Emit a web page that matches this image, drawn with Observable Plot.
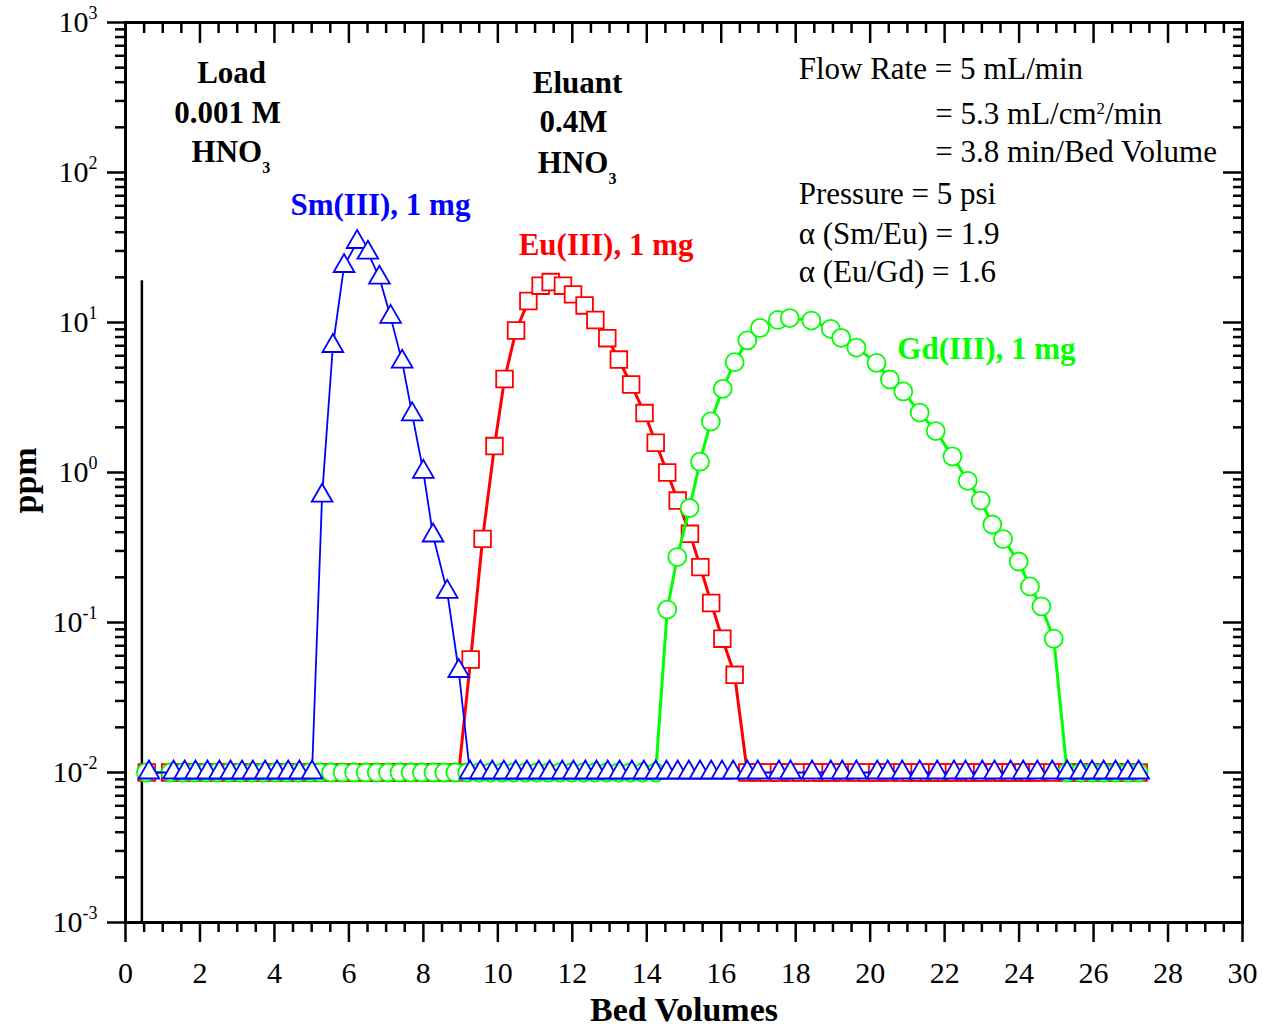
<!DOCTYPE html>
<html><head><meta charset="utf-8">
<script src="https://cdn.jsdelivr.net/npm/d3@7"></script>
<script src="https://cdn.jsdelivr.net/npm/@observablehq/plot@0.6"></script>
<style>body{margin:0;background:#fff}</style>
</head><body><div id="chart"></div>
<script>
// ---------- data (Bed Volumes, ppm) ----------
const sm = [
 [0.63,0.01],[1.29,0.01],[1.59,0.01],[1.88,0.01],[2.20,0.01],[2.52,0.01],[2.82,0.01],[3.13,0.01],[3.42,0.01],[3.75,0.01],[4.07,0.01],[4.37,0.01],[4.67,0.01],[5.01,0.01],
 [5.28,0.70],[5.57,6.97],[5.87,23.8],[6.22,34.4],[6.51,29.2],[6.82,19.9],[7.12,10.9],[7.43,5.48],[7.70,2.44],[8.00,1.01],[8.26,0.38],[8.64,0.16],[8.95,0.0475],
 [9.25,0.01],[9.53,0.01],[9.85,0.01],[10.16,0.01],[10.48,0.01],[10.78,0.01],[11.10,0.01],[11.39,0.01],[11.73,0.01],[12.03,0.01],[12.35,0.01],[12.65,0.01],[12.95,0.01],[13.27,0.01],[13.60,0.01],[13.92,0.01],[14.24,0.01],
 [14.53,0.01],[14.83,0.01],[15.13,0.01],[15.43,0.01],[15.73,0.01],[16.02,0.01],[16.32,0.01],[16.70,0.01],[16.98,0.01],[17.55,0.01],[17.86,0.01],[18.44,0.01],[18.94,0.01],[19.25,0.01],[19.63,0.01],[20.19,0.01],[20.47,0.01],[20.86,0.01],[21.33,0.01],[21.80,0.01],[22.25,0.01],[22.56,0.01],[23.01,0.01],[23.34,0.01],[23.77,0.01],[24.11,0.01],[24.49,0.01],[24.89,0.01],[25.29,0.01],[25.65,0.01],[25.96,0.01],[26.27,0.01],[26.59,0.01],[26.92,0.01],[27.21,0.01]
];
const eu = [
 [0.57,0.01],[1.20,0.01],[1.53,0.01],[1.84,0.01],[2.15,0.01],[2.47,0.01],[2.78,0.01],[3.08,0.01],[3.40,0.01],[3.71,0.01],[4.03,0.01],[4.33,0.01],[4.64,0.01],[4.96,0.01],[5.25,0.01],[5.55,0.01],[5.87,0.01],[6.17,0.01],[6.47,0.01],[6.79,0.01],[7.10,0.01],[7.41,0.01],[7.71,0.01],[8.03,0.01],[8.33,0.01],[8.65,0.01],[8.95,0.01],
 [9.27,0.0567],[9.59,0.361],[9.91,1.50],[10.18,4.2],[10.49,8.85],[10.82,13.9],[11.15,17.6],[11.42,18.6],[11.75,17.6],[12.02,15.4],[12.33,13.0],[12.62,10.4],[12.94,7.86],[13.25,5.66],[13.58,3.86],[13.94,2.49],[14.24,1.58],[14.55,1.0],[14.83,0.65],[15.16,0.39],[15.44,0.234],[15.73,0.135],[16.03,0.078],[16.36,0.0448],
 [16.70,0.01],[16.98,0.01],[17.27,0.01],[17.55,0.01],[17.86,0.01],[18.15,0.01],[18.44,0.01],[18.70,0.01],[18.94,0.01],[19.25,0.01],[19.63,0.01],[19.92,0.01],[20.19,0.01],[20.47,0.01],[20.86,0.01],[21.10,0.01],[21.33,0.01],[21.58,0.01],[21.80,0.01],[22.05,0.01],[22.25,0.01],[22.56,0.01],[22.80,0.01],[23.01,0.01],[23.34,0.01],[23.57,0.01],[23.77,0.01],[24.11,0.01],[24.29,0.01],[24.49,0.01],[24.89,0.01],[25.29,0.01],[25.65,0.01],[25.96,0.01],[26.27,0.01],[26.59,0.01],[26.92,0.01],[27.21,0.01]
];
const gd = [
 [0.55,0.01],[1.21,0.01],[1.54,0.01],[1.85,0.01],[2.16,0.01],[2.46,0.01],[2.78,0.01],[3.08,0.01],[3.40,0.01],[3.70,0.01],[4.02,0.01],[4.33,0.01],[4.64,0.01],[4.95,0.01],[5.22,0.01],[5.52,0.01],[5.83,0.01],[6.14,0.01],[6.45,0.01],[6.75,0.01],[7.05,0.01],[7.36,0.01],[7.66,0.01],[7.96,0.01],[8.27,0.01],[8.56,0.01],[8.86,0.01],[9.18,0.01],[9.50,0.01],[9.80,0.01],[10.12,0.01],[10.42,0.01],[10.74,0.01],[11.05,0.01],[11.36,0.01],[11.67,0.01],[11.98,0.01],[12.30,0.01],[12.61,0.01],[12.92,0.01],[13.24,0.01],[13.56,0.01],[13.88,0.01],[14.24,0.01],
 [14.55,0.122],[14.82,0.273],[15.15,0.58],[15.43,1.18],[15.72,2.19],[16.04,3.61],[16.36,5.44],[16.70,7.6],[17.04,9.2],[17.52,10.4],[17.84,10.7],[18.42,10.3],[18.94,9.08],[19.22,7.9],[19.63,6.8],[20.17,5.38],[20.53,4.17],[20.89,3.47],[21.33,2.51],[21.76,1.89],[22.21,1.28],[22.62,0.88],[22.97,0.65],[23.28,0.45],[23.57,0.36],[23.99,0.255],[24.29,0.174],[24.60,0.128],[24.93,0.078],
 [25.29,0.01],[25.65,0.01],[25.96,0.01],[26.27,0.01],[26.59,0.01],[26.92,0.01],[27.21,0.01]
];
const seriesNames = ["Eu(III), 1 mg", "Gd(III), 1 mg", "Sm(III), 1 mg"];
const loadLine = [{x: 0.44, top: 19, bottom: 0.001}];

const xMajorTicks = [0,2,4,6,8,10,12,14,16,18,20,22,24,26,28,30];
const yMajorTicks = [0.001,0.01,0.1,1,10,100,1000];
const xMinorTicks = d3.range(0.5, 30, 0.5).filter(v => v % 2 !== 0);
const yMinorTicks = [];
for (let k = -3; k < 3; k++) for (let m = 2; m <= 9; m++) yMinorTicks.push(m * Math.pow(10, k));

// annotation texts (positions in data space)
const boldNotes = [
  {text: "Load", x: 2.85, y: 398},
  {text: "0.001 M", x: 2.74, y: 215},
  {text: "HNO_{3}", x: 2.83, y: 117},
  {text: "Eluant", x: 12.14, y: 341},
  {text: "0.4M", x: 12.03, y: 185},
  {text: "HNO_{3}", x: 12.13, y: 100}
];
const infoNotes = [
  {text: "Flow Rate = 5 mL/min", x: 18.08, y: 417},
  {text: "= 5.3 mL/cm^{2}/min", x: 21.75, y: 212},
  {text: "= 3.8 min/Bed Volume", x: 21.75, y: 118},
  {text: "Pressure = 5 psi", x: 18.08, y: 62},
  {text: "α (Sm/Eu) = 1.9", x: 18.08, y: 33.6},
  {text: "α (Eu/Gd) = 1.6", x: 18.08, y: 18.5}
];
const seriesLabelPos = [
  {x: 10.56, y: 28},
  {x: 20.73, y: 5.75},
  {x: 4.43, y: 52}
];

// ---------- styling ----------
const series = [
  {data: eu, color: "#ff0000", symbol: "square", r: 9.4, lw: 3},
  {data: gd, color: "#00ff00", symbol: "circle", r: 9, lw: 3},
  {data: sm, color: "#0000ff", symbol: "triangle", r: 7.7, lw: 1.8}
];

const seriesMarks = [];
series.forEach((s, i) => {
  const rows = s.data.map(([x, y]) => ({x, y}));
  seriesMarks.push(Plot.line(rows, {x: "x", y: "y", stroke: s.color, strokeWidth: s.lw}));
  seriesMarks.push(Plot.dot(rows, {x: "x", y: "y", symbol: s.symbol, r: s.r, stroke: s.color, fill: "white", strokeWidth: 1.8}));
});
const labelMarks = series.map((s, i) =>
  Plot.text([{...seriesLabelPos[i], text: seriesNames[i]}], {x: "x", y: "y", text: "text", fill: s.color, fontWeight: "bold", fontSize: 31, textAnchor: "start", lineAnchor: "bottom"})
);

const tickStyle = {strokeWidth: 2.5, label: null};
const blank = () => "";

const svg = Plot.plot({
  width: 1263, height: 1027,
  marginLeft: 125, marginRight: 21, marginTop: 22, marginBottom: 105,
  style: {fontFamily: "'Liberation Serif', 'Times New Roman', serif", fontSize: "30px", color: "black", background: "white"},
  x: {domain: [0, 30]},
  y: {type: "log", domain: [1e-3, 1e3]},
  marks: [
    Plot.axisX(xMajorTicks, {anchor: "bottom", tickSize: 20, tickPadding: 19, fontSize: 30, tickFormat: d => String(d), ...tickStyle}),
    Plot.axisX(xMinorTicks, {anchor: "bottom", tickSize: 10, tickFormat: blank, ...tickStyle}),
    Plot.axisX(xMajorTicks, {anchor: "top", tickSize: -20, tickFormat: blank, ...tickStyle}),
    Plot.axisX(xMinorTicks, {anchor: "top", tickSize: -10, tickFormat: blank, ...tickStyle}),
    Plot.axisY(yMajorTicks, {anchor: "left", tickSize: 18, tickPadding: 10, fontSize: 30, tickFormat: d => `10^{${Math.round(Math.log10(d))}}`, ...tickStyle}),
    Plot.axisY(yMinorTicks, {anchor: "left", tickSize: 10, tickFormat: blank, ...tickStyle}),
    Plot.axisY(yMajorTicks, {anchor: "right", tickSize: -20, tickFormat: blank, ...tickStyle}),
    Plot.axisY(yMinorTicks, {anchor: "right", tickSize: -10, tickFormat: blank, ...tickStyle}),
    Plot.frame({stroke: "black", strokeWidth: 3}),
    Plot.ruleX(loadLine, {x: "x", y1: "top", y2: "bottom", stroke: "black", strokeWidth: 2.5}),
    ...seriesMarks,
    Plot.text(boldNotes, {x: "x", y: "y", text: "text", fontWeight: "bold", fontSize: 31, textAnchor: "middle", lineAnchor: "bottom"}),
    Plot.text(infoNotes, {x: "x", y: "y", text: "text", fontSize: 31, textAnchor: "start", lineAnchor: "bottom"}),
    ...labelMarks,
    Plot.text(["Bed Volumes"], {frameAnchor: "bottom", dy: 98, lineAnchor: "bottom", fontWeight: "bold", fontSize: 34}),
    Plot.text(["ppm"], {frameAnchor: "left", dx: -90, dy: 41, rotate: -90, lineAnchor: "bottom", fontWeight: "bold", fontSize: 34})
  ]
});

// rich text: ^{..} superscript, _{..} subscript
const NS = "http://www.w3.org/2000/svg";
function richify(el, o) {
  const s = el.textContent;
  if (!/[\^_]\{/.test(s)) return;
  while (el.firstChild) el.removeChild(el.firstChild);
  const add = (txt, attrs) => {
    const t = document.createElementNS(NS, "tspan");
    for (const k in attrs) t.setAttribute(k, attrs[k]);
    t.textContent = txt; el.appendChild(t);
  };
  const re = /([\^_])\{([^}]*)\}/g;
  let last = 0, m, pending = 0;
  while ((m = re.exec(s))) {
    if (m.index > last) { add(s.slice(last, m.index), pending ? {dy: pending} : {}); pending = 0; }
    const sup = m[1] === "^";
    const shift = sup ? -o.supShift : o.subShift;
    add(m[2], {dy: shift + pending, "font-size": sup ? o.supSize : o.subSize});
    pending = -shift;
    last = re.lastIndex;
  }
  if (last < s.length) add(s.slice(last), pending ? {dy: pending} : {});
}
svg.querySelectorAll("text").forEach(t => {
  const isAxis = t.closest('g[aria-label="y-axis tick label"]');
  richify(t, isAxis ? {supSize: 18, supShift: 13, subSize: 18, subShift: 8}
                    : {supSize: 17, supShift: 10, subSize: 16, subShift: 11});
});
document.getElementById("chart").appendChild(svg);
</script>
</body></html>
